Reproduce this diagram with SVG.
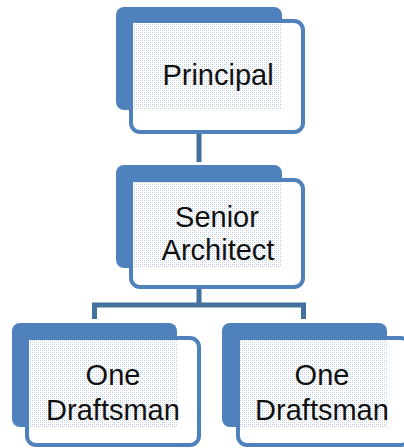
<svg xmlns="http://www.w3.org/2000/svg" width="404" height="448" viewBox="0 0 404 448">
<defs>
<pattern id="dots" width="4" height="4" patternUnits="userSpaceOnUse">
<rect width="4" height="4" fill="#ffffff"/>
<rect x="0" y="0" width="1" height="1" fill="#b9c9e2"/>
<rect x="2" y="2" width="1" height="1" fill="#b9c9e2"/>
<rect x="2" y="0" width="1" height="1" fill="#dbe4f1"/>
<rect x="0" y="2" width="1" height="1" fill="#dbe4f1"/>
</pattern>
</defs>
<style>
.back{fill:#4f81bd}
.front{fill:#ffffff;stroke:#4f81bd;stroke-width:4}
.tex{fill:url(#dots)}
.conn{fill:none;stroke:#41719c;stroke-width:5}
text{font-family:"Liberation Sans",Arial,sans-serif;font-size:29px;fill:#111111;text-anchor:middle}
</style>
<g id="connectors">
<line class="conn" x1="199" y1="133" x2="199" y2="162"/>
<path class="conn" d="M199 288 V305 M94.5 319 V305 H303.5 V319"/>
</g>
<g id="principal">
<rect class="back" x="116" y="7" width="166" height="103" rx="8"/>
<rect class="front" x="131" y="21" width="172" height="111" rx="9"/>
<rect class="tex" x="133" y="23" width="149" height="87"/>
<text x="218" y="85">Principal</text>
</g>
<g id="senior">
<rect class="back" x="116" y="165" width="166" height="103" rx="8"/>
<rect class="front" x="131" y="180" width="172" height="107" rx="9"/>
<rect class="tex" x="133" y="182" width="149" height="86"/>
<text x="217" y="227">Senior</text>
<text x="218" y="260">Architect</text>
</g>
<g id="draftsman1">
<rect class="back" x="12" y="323" width="165" height="104" rx="8"/>
<rect class="front" x="27" y="338" width="172" height="107" rx="9"/>
<rect class="tex" x="29" y="340" width="148" height="87"/>
<text x="113" y="385">One</text>
<text x="113" y="420">Draftsman</text>
</g>
<g id="draftsman2">
<rect class="back" x="222" y="323" width="165" height="104" rx="8"/>
<rect class="front" x="238" y="338" width="172" height="107" rx="9"/>
<rect class="tex" x="240" y="340" width="147" height="87"/>
<text x="322" y="385">One</text>
<text x="322" y="420">Draftsman</text>
</g>
</svg>
